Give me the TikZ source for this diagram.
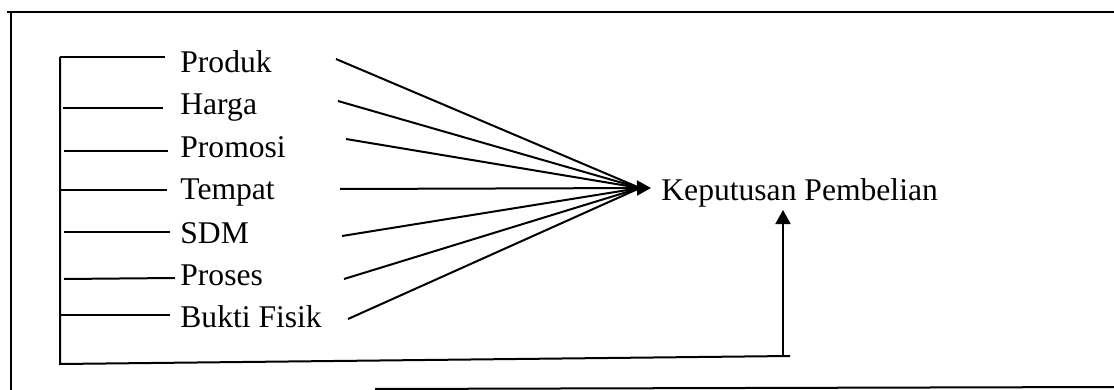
\documentclass[tikz,border=0pt]{standalone}
\usepackage{fontspec}
\setmainfont{Liberation Serif}
\usetikzlibrary{arrows.meta}
\begin{document}
\begin{tikzpicture}[x=0.5pt,y=-0.5pt,
  ln/.style={line width=1pt},
  lbl/.style={anchor=base west,inner sep=0pt,font=\fontsize{15.8pt}{18pt}\selectfont},
  arr/.style={ln,-{Triangle[length=7pt,width=7.5pt]}}]
\useasboundingbox (0,0) rectangle (1114,390);
% outer frame
\draw[ln] (7,12) -- (1114,12);
\draw[ln] (11,12) -- (11,390);
\draw[ln] (375,389) -- (1114,387);
% labels
\node[lbl] (produk) at (180,73) {Produk};
\node[lbl] (harga) at (180,115) {Harga};
\node[lbl] (promosi) at (180,157) {Promosi};
\node[lbl] (tempat) at (180,199) {Tempat};
\node[lbl] (sdm) at (180,243) {SDM};
\node[lbl] (proses) at (180,285) {Proses};
\node[lbl] (bukti) at (180,327) {Bukti Fisik};
\node[lbl] (kp) at (661,200) {Keputusan Pembelian};
% left bracket
\coordinate (bt) at (60,57);
\coordinate (bb) at (60,364);
\coordinate (br) at (790,356);
\coordinate (up) at (783,356);
\coordinate (uptip) at (783,210);
\draw[ln] (bt) -- (bb) -- (br);
% stubs
\draw[ln] (60,57) -- (165,57);
\draw[ln] (63,108) -- (163,108);
\draw[ln] (64,151) -- (168,151);
\draw[ln] (60,190) -- (167,190);
\draw[ln] (64,232) -- (170,232);
\draw[ln] (64,279) -- (175,278);
\draw[ln] (60,315) -- (170,315);
% converging lines
\coordinate (hub) at (640,188);
\coordinate (tip) at (651,188);
\coordinate (s1) at (336,59);
\coordinate (s2) at (338,101);
\coordinate (s3) at (346,139);
\coordinate (s4) at (340,189);
\coordinate (s5) at (342,236);
\coordinate (s6) at (344,279);
\coordinate (s7) at (348,319);
\foreach \s in {s1,s2,s3,s5,s6,s7} \draw[ln] (\s) -- (hub);
\draw[arr] (s4) -- (tip);
\draw[arr] (up) -- (uptip);
\end{tikzpicture}
\end{document}
